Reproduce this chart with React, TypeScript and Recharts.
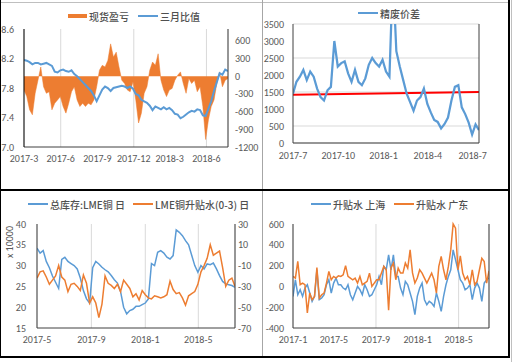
import React from "react";
import {
  Area,
  CartesianGrid,
  ComposedChart,
  Line,
  LineChart,
  ReferenceLine,
  XAxis,
  YAxis,
} from "recharts";

const DAY = 86400000;
const day = (y: number, m: number, d = 1) => Date.UTC(y, m - 1, d) / DAY;
const fmt = (v: number) => {
  const d = new Date(v * DAY);
  return `${d.getUTCFullYear()}-${d.getUTCMonth() + 1}`;
};

// chart 1: 现货盈亏 / 三月比值 (weekly from 2017-03-01)
const start1 = day(2017, 3);
const ticks1 = [day(2017, 3), day(2017, 6), day(2017, 9), day(2017, 12), day(2018, 3), day(2018, 6)];
const ratio3m = [
  8.18, 8.17, 8.15, 8.12, 8.14, 8.14, 8.12, 8.13, 8.14, 8.12,
  8.1, 8.02, 8.01, 8.04, 8.05, 8.03, 8.02, 8.04, 7.99, 7.96,
  7.92, 7.88, 7.84, 7.8, 7.76, 7.7, 7.62, 7.7, 7.78, 7.82,
  7.8, 7.76, 7.8, 7.81, 7.82, 7.83, 7.82, 7.8, 7.82, 7.79,
  7.72, 7.7, 7.64, 7.62, 7.6, 7.56, 7.5, 7.55, 7.53, 7.51,
  7.54, 7.51, 7.53, 7.5, 7.45, 7.44, 7.39, 7.41, 7.44, 7.47,
  7.49, 7.48, 7.51, 7.5, 7.43, 7.42, 7.52, 7.62, 7.76, 7.88,
  8.0, 7.98, 8.05, 8.03,
];
const spotPnl = [
  -235, -346, -570, -654, -290, -67, 156, -179, -290, -263,
  -570, -458, -402, -346, -514, -626, -458, -263, -179, -402,
  -514, -458, -514, -458, -486, -402, -179, 101, 184, 156,
  268, 548, 324, 408, 156, -67, -123, -235, -263, -95,
  -402, -793, -626, -290, -179, 101, 240, 184, 380, -67,
  -235, -346, -235, -207, -67, 17, 73, -123, -290, -39,
  -123, -67, -263, -179, -514, -1073, -737, -514, -402, -123,
  73, -179, -67, -39,
];

// chart 2: 精废价差 (weekly from 2017-07-01)
const start2 = day(2017, 7);
const ticks2 = [day(2017, 7), day(2017, 10), day(2018, 1), day(2018, 4), day(2018, 7)];
const scrapSpread = [
  1450, 1800, 1950, 2150, 1850, 2100, 1950, 1600, 1350, 1250,
  1550, 1650, 3000, 2250, 2350, 2400, 2050, 1800, 2150, 1800,
  1700, 1900, 2300, 2500, 2350, 2250, 2450, 2100, 1950, 5000,
  2700, 2250, 1850, 1450, 1200, 950, 1250, 1350, 1600, 1150,
  900, 680, 620, 430, 560, 750, 1250, 1650, 1700, 1050,
  850, 600, 250, 550, 380,
];
const trendStart = 1420;
const trendEnd = 1500;

// chart 3: LME 总库存 / 升贴水 (weekly from 2017-05-01)
const start3 = day(2017, 5);
const ticks3 = [day(2017, 5), day(2017, 9), day(2018, 1), day(2018, 5)];
const lmeStock = [
  34.2, 33.0, 33.6, 31.0, 29.5, 27.5, 26.0, 24.5, 31.5, 32.0,
  31.0, 30.5, 30.0, 29.2, 27.0, 24.0, 22.0, 21.0, 29.5, 31.0,
  30.4, 29.6, 29.0, 28.5, 27.6, 26.6, 25.8, 23.8, 20.0, 18.4,
  19.2, 19.5, 20.2, 20.2, 20.6, 21.0, 22.0, 30.5, 30.0, 33.2,
  33.6, 33.0, 32.0, 31.6, 32.4, 38.6, 38.0, 37.2, 36.0, 35.0,
  32.5, 30.0, 28.4, 30.0, 29.2, 30.4, 30.2, 30.6, 29.2, 27.6,
  26.2, 25.6, 25.4, 25.2, 24.8,
];
const lmeSpread = [
  -22, -16, -15, -21, -28, -24, -20, -10, -21, -24,
  -35, -28, -27, -30, -34, -19, -27, -46, -40, -46,
  -60, -47, -20, -27, -29, -32, -28, -35, -24, -28,
  -32, -40, -37, -43, -34, -38, -41, -42, -39, -40,
  -41, -40, -38, -25, -33, -37, -36, -41, -48, -39,
  -37, -35, -28, -16, -10, -3, 10, 0, 2, 4,
  -12, -30, -24, -22, -30,
];

// chart 4: 升贴水 上海 / 广东 (weekly from 2017-01-01)
const start4 = day(2017, 1);
const ticks4 = [day(2017, 1), day(2017, 5), day(2017, 9), day(2018, 1), day(2018, 5)];
const premSh = [
  -96, 64, -80, -32, -96, -16, 16, -64, -144, -96,
  160, -128, -112, -80, 16, 64, -64, 32, 80, 16,
  16, -16, -32, 16, -80, -128, -64, 0, -32, -80,
  16, -32, -96, -80, -32, 16, 96, 16, 192, 160,
  304, 160, 304, 96, 96, -16, -80, 48, 16, -64,
  -144, -272, -96, -16, 32, -128, -176, -144, -160, -192,
  -64, -144, -240, -96, 16, 96, 160, 351, 256, 160,
  64, 32, -32, -16, 16, -128, -16, 32, -16, -144,
  32, 64, 80,
];
const premGd = [
  96, 80, 240, 16, 32, 16, -256, -64, -128, -96,
  180, -112, -80, -64, 32, 144, 64, 96, 80, 102,
  96, 112, 200, 96, 80, 64, 80, 32, 96, 16,
  32, 48, 128, 0, 32, 64, 64, 128, 192, 160,
  -230, 180, 224, 64, 176, 128, 128, 224, 176, 351,
  130, 32, 80, 160, 128, 80, 32, 80, 128, 64,
  -64, 192, 288, 160, 64, 192, 351, 600, 560, 160,
  294, 128, 64, 96, 16, 160, 16, 48, 160, 270,
  240, 32, 150,
];

const data1 = ratio3m.map((v, i) => ({ x: start1 + i * 7, ratio: v, spot: spotPnl[i] }));
const data2 = scrapSpread.map((v, i) => ({ x: start2 + i * 7, spread: v }));
const data3 = lmeStock.map((v, i) => ({ x: start3 + i * 7, stock: v, spread: lmeSpread[i] }));
const data4 = premSh.map((v, i) => ({ x: start4 + i * 7, sh: v, gd: premGd[i] }));
const end1 = data1[data1.length - 1].x;
const end2 = data2[data2.length - 1].x;
const end3 = data3[data3.length - 1].x;
const end4 = data4[data4.length - 1].x;

const BLUE = "#5B9BD5";
const ORANGE = "#ED7D31";
const GRID = "#D9D9D9";
const AXIS = "#404040";
const tick = {
  fontSize: 10,
  fill: "#595959",
  fontFamily: 'Carlito, "Liberation Sans Narrow", "Liberation Sans", Arial, sans-serif',
};
const cjk = '"Noto Sans CJK SC", "Noto Sans", sans-serif';

function LegendItem({ x, y, color, label, box }: { x: number; y: number; color: string; label: string; box?: boolean }) {
  return (
    <div
      style={{
        position: "absolute",
        left: x,
        top: y - 7,
        height: 14,
        display: "flex",
        alignItems: "center",
        fontFamily: cjk,
        fontSize: 10,
        fontWeight: 500,
        color: "#505050",
        whiteSpace: "nowrap",
      }}
    >
      <span
        style={{
          display: "inline-block",
          width: box ? 19 : 20,
          height: box ? 4 : 2,
          background: color,
          marginRight: 2,
        }}
      />
      {label}
    </div>
  );
}

function Rule({ x, y, w, h, c }: { x: number; y: number; w: number; h: number; c: string }) {
  return <div style={{ position: "absolute", left: x, top: y, width: w, height: h, background: c }} />;
}

export default function App() {
  return (
    <div
      style={{
        position: "absolute",
        left: 0,
        top: 0,
        width: 513,
        height: 362,
        background: "#fff",
        overflow: "hidden",
      }}
    >
      {/* top-left */}
      <div style={{ position: "absolute", left: 0, top: 0 }}>
        <ComposedChart width={262} height={189} data={data1} margin={{ top: 29, right: 0, bottom: 22, left: 0 }}>
          <CartesianGrid xAxisId="b" yAxisId="l" vertical horizontal={false} stroke={GRID} />
          <XAxis
            xAxisId="b"
            dataKey="x"
            type="number"
            domain={[start1, end1]}
            ticks={ticks1}
            tickFormatter={fmt}
            tick={tick}
            tickSize={0}
            tickMargin={8}
            height={20}
            axisLine={{ stroke: AXIS }}
            allowDataOverflow
          />
          <XAxis xAxisId="t" orientation="top" dataKey="x" type="number" domain={[start1, end1]} tick={false} tickLine={false} height={0} axisLine={{ stroke: AXIS }} />
          <YAxis
            yAxisId="l"
            domain={[7, 8.6]}
            ticks={[7, 7.4, 7.8, 8.2, 8.6]}
            tickFormatter={(v: number) => v.toFixed(1)}
            tick={tick}
            tickSize={0}
            tickMargin={10}
            width={24}
            axisLine={{ stroke: "#000" }}
          />
          <YAxis
            yAxisId="r"
            orientation="right"
            domain={[-1200, 800]}
            ticks={[-1200, -900, -600, -300, 0, 300, 600]}
            tick={{ ...tick, textAnchor: "start" }}
            tickSize={0}
            tickMargin={7}
            width={34}
            axisLine={{ stroke: AXIS }}
          />
          <Area
            xAxisId="b"
            yAxisId="r"
            type="linear"
            dataKey="spot"
            baseValue={0}
            fill={ORANGE}
            fillOpacity={1}
            stroke={ORANGE}
            strokeWidth={0.5}
            isAnimationActive={false}
          />
          <Line xAxisId="b" yAxisId="l" dataKey="ratio" stroke={BLUE} strokeWidth={2} dot={false} isAnimationActive={false} />
        </ComposedChart>
        <LegendItem x={68} y={16} color={ORANGE} label="现货盈亏" box />
        <LegendItem x={138} y={16} color={BLUE} label="三月比值" />
      </div>

      {/* top-right */}
      <div style={{ position: "absolute", left: 263, top: 0 }}>
        <LineChart width={246} height={189} data={data2} margin={{ top: 24, right: 0, bottom: 26, left: 0 }}>
          <CartesianGrid xAxisId="b" yAxisId="l" horizontal vertical={false} stroke={GRID} />
          <XAxis
            xAxisId="b"
            dataKey="x"
            type="number"
            domain={[start2, end2]}
            ticks={ticks2}
            tickFormatter={fmt}
            tick={tick}
            tickSize={0}
            tickMargin={9}
            height={20}
            axisLine={{ stroke: AXIS }}
            allowDataOverflow
          />
          <XAxis xAxisId="t" orientation="top" dataKey="x" type="number" domain={[start2, end2]} tick={false} tickLine={false} height={0} axisLine={{ stroke: AXIS }} />
          <YAxis
            yAxisId="l"
            domain={[0, 3500]}
            ticks={[0, 500, 1000, 1500, 2000, 2500, 3000, 3500]}
            tick={tick}
            tickSize={0}
            tickMargin={9}
            width={30}
            allowDataOverflow
            axisLine={{ stroke: AXIS }}
          />
          <YAxis yAxisId="r" orientation="right" domain={[0, 1]} tick={false} tickLine={false} width={30} axisLine={{ stroke: AXIS }} />
          <ReferenceLine
            xAxisId="b"
            yAxisId="l"
            segment={[
              { x: start2, y: trendStart },
              { x: end2, y: trendEnd },
            ]}
            stroke="#FF0000"
            strokeWidth={2}
          />
          <Line xAxisId="b" yAxisId="l" dataKey="spread" stroke={BLUE} strokeWidth={2.25} dot={false} isAnimationActive={false} />
        </LineChart>
        <LegendItem x={95} y={13} color={BLUE} label="精废价差" />
      </div>

      {/* bottom-left */}
      <div style={{ position: "absolute", left: 0, top: 191 }}>
        <LineChart width={262} height={166} data={data3} margin={{ top: 33, right: 0, bottom: 11, left: 0 }}>
          <CartesianGrid xAxisId="b" yAxisId="l" vertical horizontal={false} stroke={GRID} />
          <XAxis
            xAxisId="b"
            dataKey="x"
            type="number"
            domain={[start3, end3]}
            ticks={ticks3}
            tickFormatter={fmt}
            tick={tick}
            tickSize={0}
            tickMargin={8}
            height={18}
            axisLine={{ stroke: AXIS }}
            allowDataOverflow
          />
          <XAxis xAxisId="t" orientation="top" dataKey="x" type="number" domain={[start3, end3]} tick={false} tickLine={false} height={0} axisLine={{ stroke: AXIS }} />
          <YAxis
            yAxisId="l"
            domain={[15, 40]}
            ticks={[15, 20, 25, 30, 35, 40]}
            tick={tick}
            tickSize={0}
            tickMargin={11}
            width={37}
            axisLine={{ stroke: AXIS }}
          />
          <YAxis
            yAxisId="r"
            orientation="right"
            domain={[-70, 30]}
            ticks={[-70, -50, -30, -10, 10, 30]}
            tick={{ ...tick, textAnchor: "start" }}
            tickSize={0}
            tickMargin={3}
            width={27}
            axisLine={{ stroke: AXIS }}
          />
          <Line xAxisId="b" yAxisId="l" dataKey="stock" stroke={BLUE} strokeWidth={1.5} dot={false} isAnimationActive={false} />
          <Line xAxisId="b" yAxisId="r" dataKey="spread" stroke={ORANGE} strokeWidth={1.5} dot={false} isAnimationActive={false} />
        </LineChart>
        <LegendItem x={28} y={13} color={BLUE} label="总库存:LME铜 日" />
        <LegendItem x={133} y={13} color={ORANGE} label="LME铜升贴水(0-3) 日" />
        <div
          style={{
            position: "absolute",
            left: 9,
            top: 51,
            transform: "translate(-50%, -50%) rotate(-90deg)",
            fontFamily: tick.fontFamily,
            fontSize: 10,
            color: "#595959",
            whiteSpace: "nowrap",
          }}
        >
          x 10000
        </div>
      </div>

      {/* bottom-right */}
      <div style={{ position: "absolute", left: 264, top: 191 }}>
        <LineChart width={245} height={166} data={data4} margin={{ top: 33, right: 0, bottom: 11, left: 0 }}>
          <CartesianGrid xAxisId="b" yAxisId="l" vertical horizontal={false} stroke={GRID} />
          <XAxis
            xAxisId="b"
            dataKey="x"
            type="number"
            domain={[start4, end4]}
            ticks={ticks4}
            tickFormatter={fmt}
            tick={tick}
            tickSize={0}
            tickMargin={8}
            height={18}
            axisLine={{ stroke: AXIS }}
            allowDataOverflow
          />
          <XAxis xAxisId="t" orientation="top" dataKey="x" type="number" domain={[start4, end4]} tick={false} tickLine={false} height={0} axisLine={{ stroke: AXIS }} />
          <YAxis
            yAxisId="l"
            domain={[-400, 600]}
            ticks={[-400, -200, 0, 200, 400, 600]}
            tick={tick}
            tickSize={0}
            tickMargin={9}
            width={29}
            axisLine={{ stroke: AXIS }}
          />
          <YAxis yAxisId="r" orientation="right" domain={[0, 1]} tick={false} tickLine={false} width={20} axisLine={{ stroke: AXIS }} />
          <Line xAxisId="b" yAxisId="l" dataKey="sh" stroke={BLUE} strokeWidth={1.5} dot={false} isAnimationActive={false} />
          <Line xAxisId="b" yAxisId="l" dataKey="gd" stroke={ORANGE} strokeWidth={1.5} dot={false} isAnimationActive={false} />
        </LineChart>
        <LegendItem x={47} y={13} color={BLUE} label="升贴水 上海" />
        <LegendItem x={130} y={13} color={ORANGE} label="升贴水 广东" />
      </div>

      {/* sheet frame */}
      <Rule x={0} y={2} w={509} h={1} c="#BFBFBF" />
      <Rule x={0} y={0} w={1} h={358} c="#000" />
      <Rule x={262} y={0} w={1} h={358} c="#A6A6A6" />
      <Rule x={0} y={189} w={510} h={2} c="#000" />
      <Rule x={508} y={0} w={2} h={358} c="#000" />
      <Rule x={0} y={356} w={510} h={2} c="#000" />
      <Rule x={511} y={0} w={1} h={362} c="#BFBFBF" />
    </div>
  );
}
